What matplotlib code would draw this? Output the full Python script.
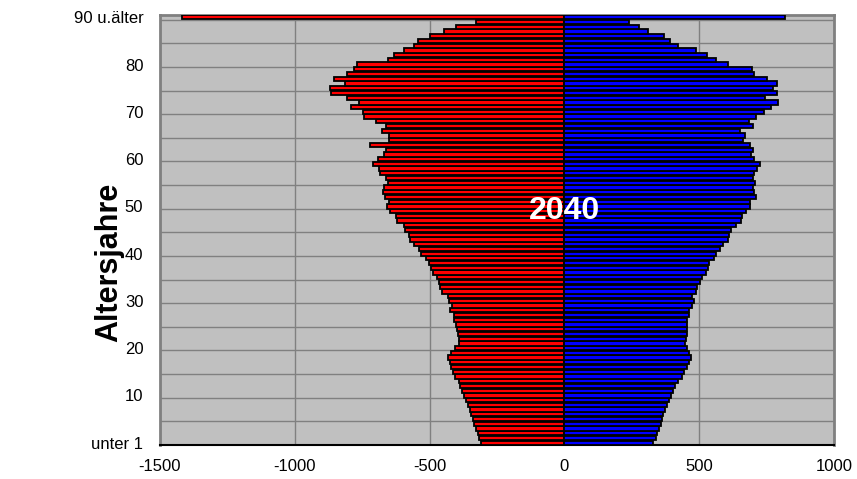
import matplotlib
matplotlib.use("Agg")
import matplotlib.pyplot as plt
import numpy as np

plt.rcParams['font.family'] = ['Liberation Sans', 'DejaVu Sans']

ages = list(range(0, 91))
maenner = [-310, -318, -322, -327, -334, -339, -346, -352, -359, -364,
           -374, -380, -386, -392, -405, -413, -421, -426, -430, -421,
           -405, -392, -392, -396, -399, -402, -408, -411, -423, -417,
           -427, -433, -454, -460, -464, -473, -488, -495, -504, -512,
           -532, -541, -557, -571, -578, -590, -596, -620, -625, -646,
           -658, -652, -664, -673, -670, -655, -660, -683, -689, -711,
           -691, -668, -663, -722, -652, -652, -676, -663, -700, -744,
           -747, -791, -763, -808, -865, -868, -815, -853, -806, -779,
           -771, -654, -631, -596, -557, -544, -500, -448, -401, -328,
           -1420]
frauen = [330, 340, 342, 352, 357, 361, 367, 374, 379, 389,
          395, 404, 411, 422, 435, 444, 453, 463, 468, 463,
          453, 447, 451, 453, 453, 453, 456, 463, 463, 474,
          481, 474, 488, 493, 503, 512, 527, 531, 537, 554,
          562, 577, 589, 607, 611, 617, 636, 654, 658, 675,
          688, 688, 710, 704, 698, 706, 698, 704, 715, 727,
          704, 691, 700, 690, 661, 670, 653, 698, 685, 710,
          740, 768, 793, 743, 787, 774, 789, 750, 704, 694,
          605, 564, 530, 488, 422, 391, 370, 311, 278, 241,
          820]
ytick_pos = [0, 10, 20, 30, 40, 50, 60, 70, 80, 90]
ytick_labels = ["unter 1", "10", "20", "30", "40", "50", "60", "70", "80", "90 u.älter"]
xticks = [-1500, -1000, -500, 0, 500, 1000]
year_label = "2040"
axis_title = "Altersjahre"

fig = plt.figure(figsize=(8.57, 4.79), dpi=100)
ax = fig.add_axes([160/857, 34/479, (834-160)/857, (445-15)/479])
ax.set_facecolor('#C0C0C0')

ax.barh(ages, maenner, height=0.9, color='#FF0000', edgecolor='black', linewidth=1.3, zorder=3)
ax.barh(ages, frauen, height=0.9, color='#0000FF', edgecolor='black', linewidth=1.3, zorder=3)

ax.set_xlim(-1500, 1000)
ax.set_ylim(-0.5, 90.5)

for x in xticks:
    ax.axvline(x, color='#808080', linewidth=1.0, zorder=1)
for y in np.arange(4.5, 90, 5):
    ax.axhline(y, color='#808080', linewidth=1.0, zorder=1)

ax.set_xticks(xticks)
ax.set_xticklabels([str(v) for v in xticks], fontsize=12)
ax.set_yticks(ytick_pos)
ax.set_yticklabels(ytick_labels, fontsize=12)
ax.tick_params(axis='both', length=0)
ax.tick_params(axis='y', pad=12)
ax.tick_params(axis='x', pad=10)

for s in ['left', 'right', 'top']:
    ax.spines[s].set_color('#808080')
    ax.spines[s].set_linewidth(2)
ax.spines['bottom'].set_color('black')
ax.spines['bottom'].set_linewidth(1.5)

fig.text(109/857, 1 - 262/479, axis_title, fontsize=22, fontweight='bold',
         rotation=90, ha='center', va='center')

ax.text(0, 49.0, year_label, color='white', fontsize=23, fontweight='bold',
        ha='center', va='center', zorder=5)

fig.savefig("out.png", dpi=100)
